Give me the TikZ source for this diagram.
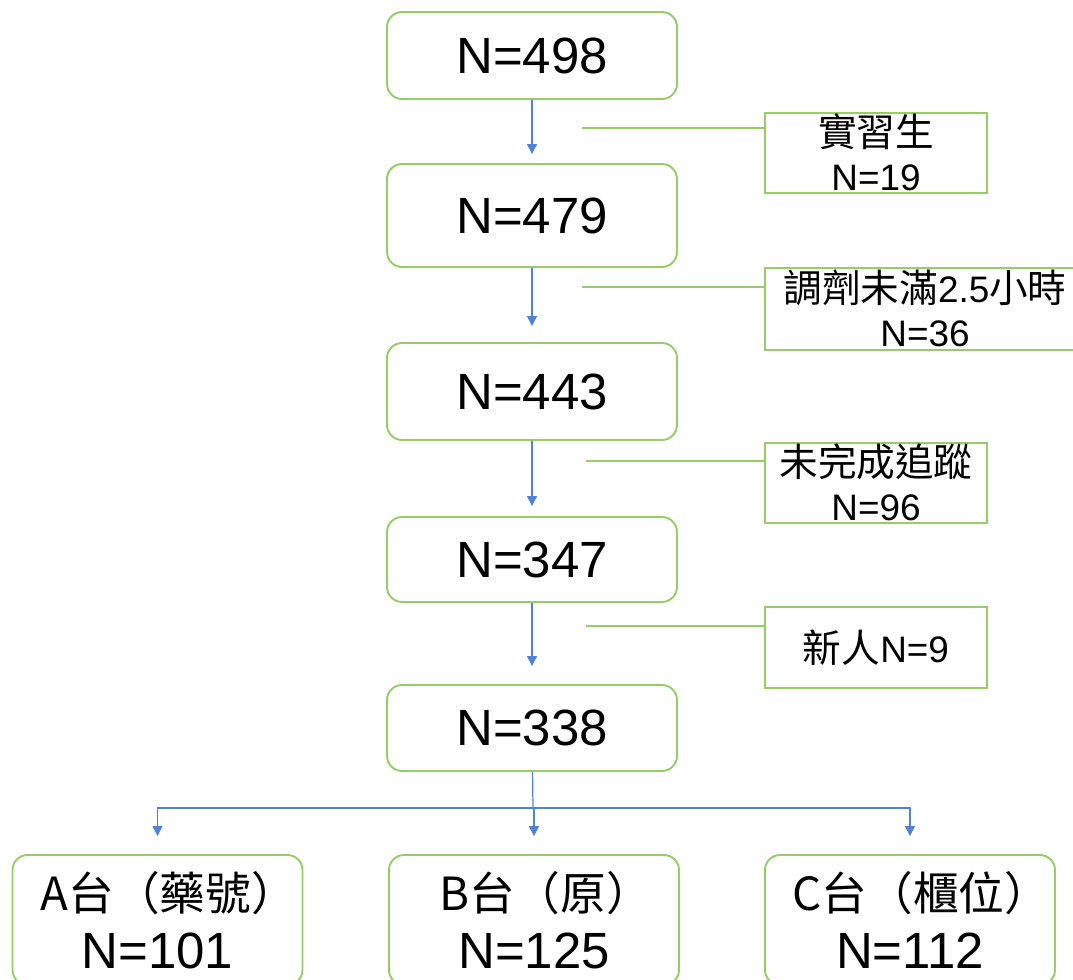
\documentclass[tikz,border=0pt]{standalone}
\usepackage{fontspec}
\setmainfont{Liberation Sans}
\newfontfamily\cjk{Noto Sans CJK TC}
\usetikzlibrary{arrows.meta}
\definecolor{boxgreen}{RGB}{150,205,105}
\definecolor{arrblue}{RGB}{80,130,215}
\newcommand\zs[1]{{\cjk\fontsize{22}{25}\selectfont #1}}

\begin{document}
\begin{tikzpicture}[x=0.02cm,y=-0.02cm,>={Triangle[width=0.2cm,length=0.2cm]}]
\useasboundingbox (0,0) rectangle (1073,980);
\tikzstyle{m}=[draw=boxgreen,line width=1.1pt,rounded corners=0.3cm,minimum width=5.8cm,font=\fontsize{29}{34}\selectfont]
\tikzstyle{s}=[draw=boxgreen,line width=1.1pt,align=center,minimum width=4.44cm,minimum height=1.6cm,font=\fontsize{21}{25}\selectfont]
\tikzstyle{t}=[inner ysep=0pt,text height=1.5cm,text depth=0pt]
\tikzstyle{ar}=[->,draw=arrblue,line width=0.7pt]
\tikzstyle{gl}=[draw=boxgreen,line width=1.1pt]
% main column
\foreach \i/\y/\h/\n in {1/55.5/1.74/498,2/215.5/2.06/479,3/391.5/1.94/443,4/559.5/1.70/347,5/728/1.72/338} { \node[m,minimum height=\h cm] (m\i) at (532,\y) {N=\n}; }
\foreach \i/\j/\g in {1/2/0.18,2/3/0.32,3/4/0.2,4/5/0.36} { \draw[ar,shorten >=\g cm] (m\i) -- (m\j); }
% excluded
\node[s,t] (s1) at (876,153) {\zs{實習生}\\N=19};
\node[s,t,minimum width=6.4cm,minimum height=1.64cm] (s2) at (925,309) {\zs{調劑未滿}2.5\zs{小時}\\N=36};
\node[s,t] (s3) at (876,483) {\zs{未完成追蹤}\\N=96};
\node[s,minimum height=1.62cm] (s4) at (876,647.5) {\zs{新人}N=9};
\foreach \i/\x/\y in {1/582/128,2/582/287,3/586/461,4/586/626} { \coordinate (c\i) at (\x,\y); \draw[gl] (c\i) -- (c\i -| s\i.west); }
% groups
\foreach \i/\x/\l/\n in {a/157.5/A台（藥號）/101,b/534/B台（原）/125,c/910/C台（櫃位）/112} { \node[m,minimum height=2.6cm,align=center,font=\fontsize{29}{33}\selectfont] (\i) at (\x,920) {{\cjk\fontsize{26}{33}\selectfont \l\kern-0.5em}\\N=\n}; }
\coordinate (br) at (533,808);
\draw[arrblue,line width=0.7pt] (m5) -- (br);
\foreach \t in {a,b,c} { \draw[ar,shorten >=0.36cm] (br) -| (\t); }
\end{tikzpicture}
\end{document}
